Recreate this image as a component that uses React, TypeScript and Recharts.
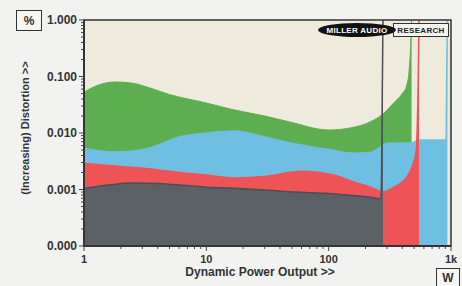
import {
  ComposedChart, Area, XAxis, YAxis, CartesianGrid, ReferenceArea,
} from "recharts";

// distortion (%) vs dynamic power output (W)
const gray: [number, number][] = [
  [1, 0.00105], [1.6, 0.0012], [2.5, 0.0013], [4, 0.00128], [6, 0.0012], [10, 0.0011],
  [17, 0.00105], [30, 0.00098], [55, 0.0009], [100, 0.00085], [160, 0.00078],
  [220, 0.00073], [268, 0.00068], [276, 0.2], [278, 1],
];
const red: [number, number][] = [
  [1, 0.0029], [1.8, 0.0026], [3.5, 0.0023], [6, 0.002], [10, 0.0018], [17, 0.0016],
  [30, 0.0017], [60, 0.0021], [110, 0.0018], [170, 0.0013], [220, 0.0011], [278, 0.00091],
  [340, 0.0011], [430, 0.0016], [480, 0.0025], [520, 0.005], [540, 0.1], [548, 1],
];
const blue: [number, number][] = [
  [1, 0.0054], [1.8, 0.0046], [3.5, 0.0055], [6, 0.0085], [10, 0.01], [17, 0.0108],
  [30, 0.0085], [50, 0.0066], [100, 0.0051], [160, 0.0044], [220, 0.0045], [270, 0.0058],
  [300, 0.0066], [480, 0.0067], [548, 0.0075], [910, 0.0075], [925, 0.2], [935, 1],
];
const green: [number, number][] = [
  [1, 0.053], [1.3, 0.07], [1.8, 0.08], [2.5, 0.076], [3.5, 0.062], [5, 0.048], [10, 0.034],
  [17, 0.0255], [30, 0.02], [48, 0.0157], [100, 0.0113], [150, 0.0123], [218, 0.0157],
  [280, 0.022], [340, 0.034], [400, 0.05], [435, 0.07], [455, 0.13], [468, 0.35], [476, 1],
];

const xMajor = [1, 10, 100, 1000];
const xLabels = ["1", "10", "100", "1k"];
const yMajor = [0.0001, 0.001, 0.01, 0.1, 1];
const yLabels = ["0.000", "0.001", "0.010", "0.100", "1.000"];

const minors = (majors: number[]) => {
  const out: number[] = [];
  majors.slice(0, -1).forEach((m) => {
    out.push(m);
    for (let k = 2; k < 10; k++) out.push(m * k);
  });
  out.push(majors[majors.length - 1]);
  return out;
};
const xTicks = minors(xMajor);
const yTicks = minors(yMajor);

// merge series into one table keyed by power
const series: Record<string, [number, number][]> = { g: green, b: blue, r: red, k: gray };
const rows: Record<number, any> = {};
Object.entries(series).forEach(([key, pts]) => {
  pts.forEach(([w, v]) => {
    rows[w] = rows[w] || { w };
    rows[w][key] = v;
  });
});
const data = Object.values(rows).sort((a: any, b: any) => a.w - b.w);

const font = "'Liberation Sans', Arial, sans-serif";

const YTick = (props: any) => {
  const { x, y, payload } = props;
  const i = yMajor.indexOf(payload.value);
  return (
    <g>
      <line x1={x} x2={x - (i >= 0 ? 5 : 3)} y1={y} y2={y} stroke="#444" />
      {i >= 0 && (
        <text x={x - 7} y={y} dy={4} textAnchor="end" fontSize={12} fontWeight="bold" fontFamily={font} fill="#333">
          {yLabels[i]}
        </text>
      )}
    </g>
  );
};

const XTick = (props: any) => {
  const { x, y, payload } = props;
  const i = xMajor.indexOf(payload.value);
  return (
    <g>
      <line x1={x} x2={x} y1={y} y2={y + (i >= 0 ? 5 : 3)} stroke="#444" />
      {i >= 0 && (
        <text x={x} y={y + 17} textAnchor="middle" fontSize={11} fontWeight="bold" fontFamily={font} fill="#333">
          {xLabels[i]}
        </text>
      )}
    </g>
  );
};

const box: React.CSSProperties = {
  position: "absolute", border: "1.5px solid #333", boxSizing: "border-box",
  fontFamily: font, fontWeight: "bold", fontSize: 12, color: "#333",
  display: "flex", alignItems: "center", justifyContent: "center", background: "#f6f6f4",
};

export default function App() {
  return (
    <div style={{ position: "absolute", left: 0, top: 0, width: 462, height: 286, background: "#f2f2f0", overflow: "hidden" }}>
      <ComposedChart width={462} height={286} data={data} margin={{ top: 20, right: 11, bottom: 0, left: 0 }}>
        <CartesianGrid fill="#eeebdc" stroke="none" />
        <XAxis
          dataKey="w" type="number" scale="log" domain={[1, 1000]} ticks={xTicks} interval={0}
          allowDataOverflow height={40} tickSize={0} tickMargin={0} tick={<XTick />}
          axisLine={{ stroke: "#333", strokeWidth: 2 }}
        />
        <YAxis
          type="number" scale="log" domain={[0.0001, 1]} ticks={yTicks} interval={0}
          allowDataOverflow width={84} tickSize={0} tickMargin={0} tick={<YTick />}
          axisLine={{ stroke: "#333", strokeWidth: 2 }}
        />
        <Area dataKey="g" type="monotone" baseValue={0.0001} connectNulls fill="#5cae50" fillOpacity={1} stroke="#5cae50" strokeWidth={1} isAnimationActive={false} />
        <Area dataKey="b" type="monotone" baseValue={0.0001} connectNulls fill="#6fbfe3" fillOpacity={1} stroke="#6fbfe3" strokeWidth={1.5} isAnimationActive={false} />
        <Area dataKey="r" type="monotone" baseValue={0.0001} connectNulls fill="#ee5456" fillOpacity={1} stroke="#ee5456" strokeWidth={1.5} isAnimationActive={false} />
        <Area dataKey="k" type="monotone" baseValue={0.0001} connectNulls fill="#5c6166" fillOpacity={1} stroke="#4a4f54" strokeWidth={1.5} isAnimationActive={false} />
        <ReferenceArea x1={1} x2={1000} y1={0.0001} y2={1} fill="none" stroke="#333" strokeWidth={1.5} ifOverflow="visible" />
      </ComposedChart>

      <div style={{ ...box, left: 16, top: 10, width: 26, height: 21 }}>%</div>
      <div style={{ ...box, left: 436, top: 268, width: 24, height: 19 }}>W</div>

      <div style={{
        position: "absolute", left: 182, top: 265, width: 156, textAlign: "center",
        fontFamily: font, fontWeight: "bold", fontSize: 12, color: "#333", whiteSpace: "nowrap",
      }}>
        Dynamic Power Output &gt;&gt;
      </div>
      <div style={{
        position: "absolute", left: 25, top: 128, transform: "translate(-50%, -50%) rotate(-90deg)",
        fontFamily: font, fontWeight: "bold", fontSize: 11, color: "#333", whiteSpace: "nowrap",
      }}>
        (Increasing) Distortion &gt;&gt;
      </div>

      <div style={{
        position: "absolute", left: 393, top: 23, width: 56, height: 14, boxSizing: "border-box",
        border: "1px solid #333", background: "#f4f4f2", fontFamily: font, fontWeight: "bold",
        fontSize: 8, color: "#222", display: "flex", alignItems: "center", justifyContent: "center",
        letterSpacing: 0.3,
      }}>
        RESEARCH
      </div>
      <div style={{
        position: "absolute", left: 318, top: 23, width: 78, height: 14, borderRadius: "50%",
        background: "#111", color: "#fff", fontFamily: font, fontWeight: "bold", fontSize: 8,
        display: "flex", alignItems: "center", justifyContent: "center", letterSpacing: 0.3,
      }}>
        MILLER AUDIO
      </div>
    </div>
  );
}
